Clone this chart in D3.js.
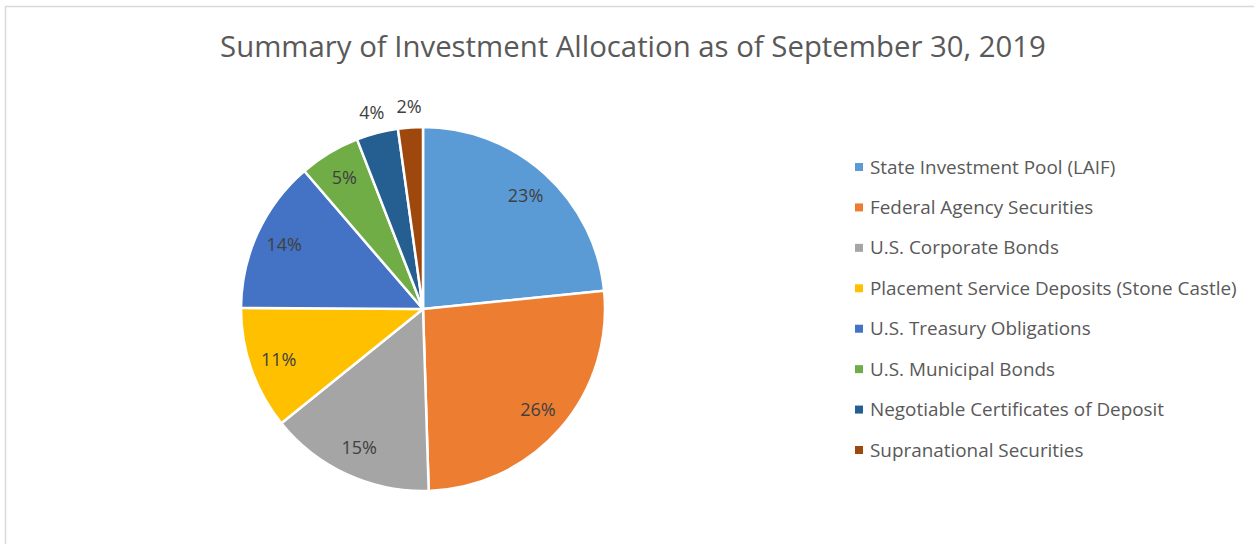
<!DOCTYPE html>
<html>
    <head>
        <script src="https://d3js.org/d3.v7.min.js"></script>
        <style>
            body { margin: 0; background: #fff; }
            text { font-family: 'Open Sans', sans-serif; }
        </style>
    </head>
    <body>
        <svg height='544' width='1254'></svg>

        <script>
            // chart data
            const categories = [
                'State Investment Pool (LAIF)',
                'Federal Agency Securities',
                'U.S. Corporate Bonds',
                'Placement Service Deposits (Stone Castle)',
                'U.S. Treasury Obligations',
                'U.S. Municipal Bonds',
                'Negotiable Certificates of Deposit',
                'Supranational Securities'
            ];
            const shares = [23.4, 26.1, 14.7, 10.9, 13.6, 5.4, 3.7, 2.2];
            const colors = ['#5B9BD5', '#ED7D31', '#A5A5A5', '#FFC000', '#4472C4', '#70AD47', '#255E91', '#9E480E'];
            const title = 'Summary of Investment Allocation as of September 30, 2019';

            const svg = d3.select('svg');
            const width = +svg.attr('width');
            const height = +svg.attr('height');

            // chart frame
            svg.append('rect')
                .attr('x', 5.5).attr('y', 6.5)
                .attr('width', width + 20).attr('height', height + 20)
                .attr('fill', '#fff')
                .attr('stroke', '#d9d9d9')
                .attr('stroke-width', 1.5);

            // fit text to a target width
            const fitWidth = (sel, target, maxSize) => {
                let size = maxSize;
                sel.style('font-size', size + 'px');
                const w = sel.node().getComputedTextLength();
                size = size * target / w;
                sel.style('font-size', size + 'px');
                return size;
            };

            const titleText = svg.append('text')
                .attr('x', 633).attr('y', 57)
                .attr('text-anchor', 'middle')
                .attr('fill', '#595959')
                .text(title);
            fitWidth(titleText, 826, 30);

            // pie
            const cx = 423, cy = 309, r = 182;
            const total = d3.sum(shares);
            const color = d3.scaleOrdinal().domain(categories).range(colors);
            const pct = d3.format('.0%');

            const pie = d3.pie().sort(null).value(d => d.value);
            const arcs = pie(categories.map((c, i) => ({ name: c, value: shares[i] })));

            const arc = d3.arc().innerRadius(0).outerRadius(r);
            const labelArc = d3.arc().innerRadius(r * 0.84).outerRadius(r * 0.84);
            const outerArc = d3.arc().innerRadius(r + 21).outerRadius(r + 21);

            const g = svg.append('g').attr('transform', `translate(${cx},${cy})`);

            g.selectAll('path').data(arcs).enter().append('path')
                .attr('d', arc)
                .attr('fill', d => color(d.data.name))
                .attr('stroke', '#fff')
                .attr('stroke-width', 2.5)
                .attr('stroke-linejoin', 'round');

            g.selectAll('text.lbl').data(arcs).enter().append('text')
                .attr('class', 'lbl')
                .attr('transform', d => {
                    const p = (d.data.value / total < 0.05 ? outerArc : labelArc).centroid(d);
                    return `translate(${p})`;
                })
                .attr('text-anchor', 'middle')
                .attr('dy', '0.35em')
                .attr('fill', '#404040')
                .style('font-size', '18px')
                .text(d => pct(d.data.value / total));

            // legend
            const legendY = d3.scalePoint()
                .domain(categories)
                .range([167, 450]);

            const legend = svg.append('g');
            const items = legend.selectAll('g').data(categories).enter().append('g')
                .attr('transform', d => `translate(855,${legendY(d)})`);

            items.append('rect')
                .attr('x', 0).attr('y', -4)
                .attr('width', 8).attr('height', 8)
                .attr('fill', d => color(d));

            const legendTexts = items.append('text')
                .attr('x', 15)
                .attr('dy', '0.35em')
                .attr('fill', '#595959')
                .text(d => d);

            // size legend font so the longest label spans the same width
            const longest = legendTexts.filter(d => d === categories[3]);
            const lsize = fitWidth(longest, 367, 18);
            legendTexts.style('font-size', lsize + 'px');
        </script>
    </body>
</html>
